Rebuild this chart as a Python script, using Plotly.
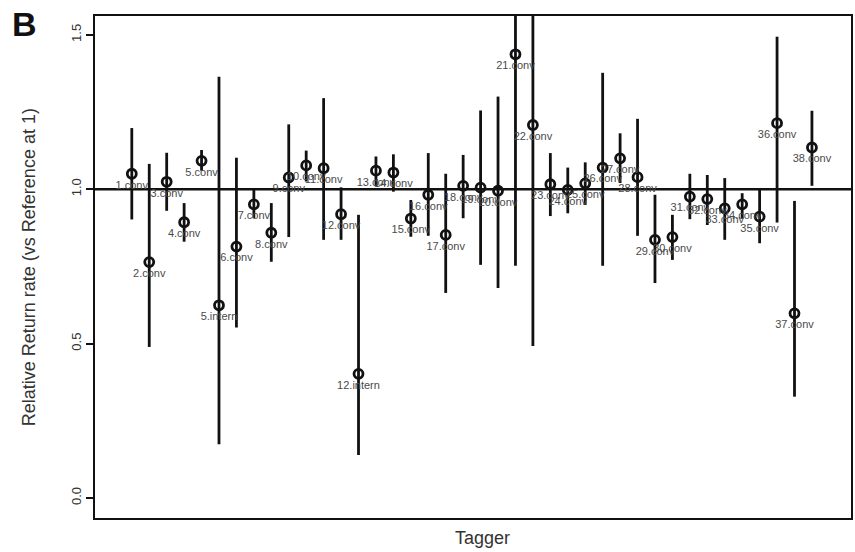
import plotly.graph_objects as go

labels = ["1.conv", "2.conv", "3.conv", "4.conv", "5.conv", "5.intern", "6.conv", "7.conv",
          "8.conv", "9.conv", "10.conv", "11.conv", "12.conv", "12.intern", "13.conv", "14.conv",
          "15.conv", "16.conv", "17.conv", "18.conv", "19.conv", "20.conv", "21.conv", "22.conv",
          "23.conv", "24.conv", "25.conv", "26.conv", "27.conv", "28.conv", "29.conv", "30.conv",
          "31.conv", "32.conv", "33.conv", "34.conv", "35.conv", "36.conv", "37.conv", "38.conv"]

rate = [1.050, 0.764, 1.024, 0.893, 1.092, 0.624, 0.814, 0.951,
        0.859, 1.038, 1.077, 1.068, 0.919, 0.402, 1.060, 1.054,
        0.905, 0.982, 0.852, 1.011, 1.005, 0.995, 1.437, 1.208,
        1.016, 0.998, 1.019, 1.070, 1.100, 1.039, 0.836, 0.845,
        0.976, 0.968, 0.938, 0.951, 0.911, 1.214, 0.598, 1.135]

upper = [1.198, 1.082, 1.118, 0.955, 1.127, 1.364, 1.102, 0.998,
         0.955, 1.210, 1.125, 1.295, 1.006, 0.917, 1.106, 1.113,
         0.965, 1.117, 1.050, 1.111, 1.255, 1.300, 1.700, 1.650,
         1.117, 1.070, 1.087, 1.377, 1.181, 1.228, 0.982, 0.917,
         1.050, 1.046, 1.036, 0.987, 0.998, 1.494, 0.962, 1.254]

lower = [0.902, 0.489, 0.930, 0.830, 1.060, 0.174, 0.552, 0.906,
         0.765, 0.845, 1.025, 0.836, 0.836, 0.139, 1.010, 0.992,
         0.846, 0.849, 0.664, 0.906, 0.755, 0.680, 0.752, 0.492,
         0.913, 0.922, 0.949, 0.752, 1.020, 0.849, 0.696, 0.771,
         0.903, 0.884, 0.836, 0.905, 0.825, 0.892, 0.328, 1.011]

y_ticks = [0.0, 0.5, 1.0, 1.5]
reference_level = 1.0

x = list(range(1, len(labels) + 1))
err_plus = [u - r for u, r in zip(upper, rate)]
err_minus = [r - l for r, l in zip(rate, lower)]

FONT = "Liberation Sans, Arial, Helvetica, sans-serif"

fig = go.Figure()
fig.add_trace(go.Scatter(
    x=x, y=rate,
    mode="markers+text",
    text=labels,
    textposition="bottom center",
    textfont=dict(family=FONT, size=11, color="#4a4a4a"),
    marker=dict(symbol="circle-open", size=9, color="#111111",
                line=dict(width=2.8, color="#111111")),
    error_y=dict(type="data", symmetric=False, array=err_plus, arrayminus=err_minus,
                 color="#111111", thickness=2.8, width=0),
    showlegend=False,
    hoverinfo="skip",
))

fig.add_shape(type="line", xref="paper", x0=0, x1=1, yref="y", y0=reference_level, y1=reference_level,
              line=dict(color="#111111", width=2.5), layer="below")

fig.update_layout(
    width=855, height=552,
    margin=dict(l=95, r=4, t=16, b=34, autoexpand=False),
    paper_bgcolor="white", plot_bgcolor="white",
    font=dict(family=FONT, color="#222222"),
    xaxis=dict(range=[-1.11, 42.24], showticklabels=False, ticks="", showgrid=False, automargin=False,
               zeroline=False, showline=True, mirror=True, linecolor="#111111", linewidth=2),
    yaxis=dict(range=[-0.065, 1.561], tickvals=y_ticks, ticktext=["0.0", "0.5", "1.0", "1.5"],
               tickangle=-90, ticks="outside", ticklen=7, tickwidth=2, tickcolor="#111111",
               tickfont=dict(family=FONT, size=13, color="#333333"), automargin=False,
               showgrid=False, zeroline=False, showline=True, mirror=True,
               linecolor="#111111", linewidth=2),
    annotations=[
        dict(text="Relative Return rate (vs Reference at 1)", xref="paper", yref="paper",
             x=-0.087, y=0.5, xanchor="center", yanchor="middle", textangle=-90, showarrow=False,
             font=dict(family=FONT, size=18, color="#333333")),
        dict(text="Tagger", xref="paper", yref="paper", x=0.512, y=-0.016,
             xanchor="center", yanchor="top", showarrow=False,
             font=dict(family=FONT, size=18, color="#333333")),
        dict(text="<b>B</b>", xref="paper", yref="paper", x=-0.112, y=0.984,
             xanchor="left", yanchor="middle", showarrow=False,
             font=dict(family=FONT, size=34, color="#111111")),
    ],
)

# remove the default 8px page margin so the figure fills the window exactly
fig.write_html("out.html", config={"displayModeBar": False},
               post_script="document.body.style.margin='0';")
